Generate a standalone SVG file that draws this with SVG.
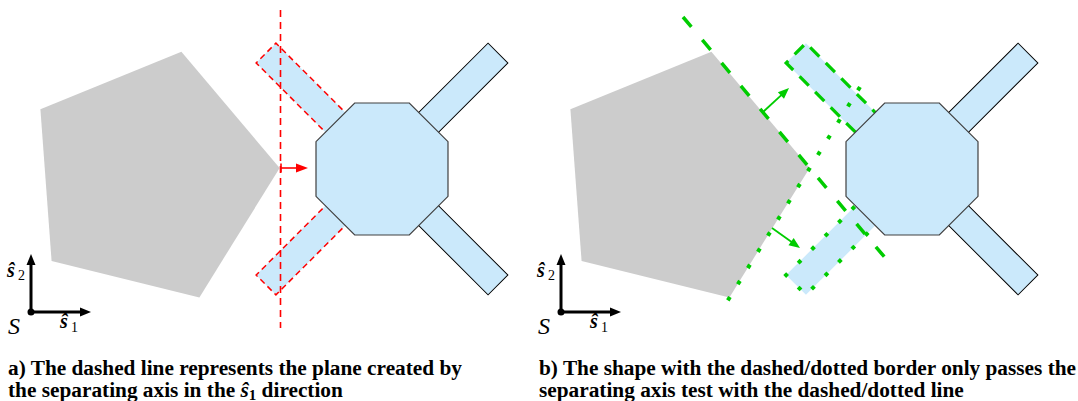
<svg xmlns="http://www.w3.org/2000/svg" width="1078" height="401" viewBox="0 0 1078 401">
<defs>
<style>
.pent{fill:#cccccc;stroke:none}
.oct{fill:#cbe9fb;stroke:#404040;stroke-width:1.2}
.arm{fill:#cbe9fb;stroke:#000;stroke-width:1}
.armR{fill:#cbe9fb;stroke:#ff0000;stroke-width:1.5;stroke-dasharray:6 4}
.armGd{fill:#cbe9fb;stroke:#00cc00;stroke-width:3.2;stroke-dasharray:13 9}
.armGo{fill:#cbe9fb;stroke:#00cc00;stroke-width:4;stroke-dasharray:4 15}
.redline{stroke:#ff0000;stroke-width:1.6;stroke-dasharray:7 5;fill:none}
.redarrow{stroke:#ff0000;stroke-width:1.6;fill:none}
.gdash{stroke:#00cc00;stroke-width:3.5;stroke-dasharray:13 17;fill:none}
.gdot{stroke:#00cc00;stroke-width:4;stroke-dasharray:4 15;fill:none}
.garrow{stroke:#00cc00;stroke-width:1.8;fill:none}
.axis{stroke:#000;stroke-width:3;fill:none}
.math{font-family:"Liberation Serif",serif;font-style:italic;fill:#000}
.hat{font-size:20px;font-weight:bold}
.sub{font-size:14px;font-style:normal}
.cap{font-family:"Liberation Serif",serif;font-weight:bold;font-size:21.3px;fill:#000}
</style>
<rect id="armshape" x="0" y="-14" width="164" height="28"/>
<polygon id="octshape" points="-27.3,-66 27.3,-66 66,-27.3 66,27.3 27.3,66 -27.3,66 -66,27.3 -66,-27.3"/>
<marker id="headK" markerUnits="userSpaceOnUse" markerWidth="12" markerHeight="10" refX="3" refY="4.5" orient="auto" overflow="visible">
<path d="M0,0 L11,4.5 L0,9 z" fill="#000"/>
</marker>
<marker id="headR" markerUnits="userSpaceOnUse" markerWidth="12" markerHeight="10" refX="2" refY="4.5" orient="auto" overflow="visible">
<path d="M0,0 L12,4.5 L0,9 z" fill="#ff0000"/>
</marker>
<marker id="tickR" markerUnits="userSpaceOnUse" markerWidth="4" markerHeight="10" refX="0" refY="4.5" orient="auto" overflow="visible">
<path d="M0,0 V9" stroke="#ff0000" stroke-width="1.6"/>
</marker>
<marker id="headG" markerUnits="userSpaceOnUse" markerWidth="12" markerHeight="10" refX="2" refY="4.5" orient="auto" overflow="visible">
<path d="M0,0 L11,4.5 L0,9 z" fill="#00cc00"/>
</marker>
</defs>

<!-- Panel a -->
<g id="pentagon-a"><polygon class="pent" points="181.4,51.7 40.4,109.3 51.6,261.1 199.4,297.4 279.65,168"/></g>
<g id="arm-a-ur"><use href="#armshape" class="arm" transform="translate(382,169) rotate(-45)"/></g>
<g id="arm-a-lr"><use href="#armshape" class="arm" transform="translate(382,169) rotate(45)"/></g>
<g id="arm-a-ul"><use href="#armshape" class="armR" transform="translate(382,169) rotate(-135)"/></g>
<g id="arm-a-ll"><use href="#armshape" class="armR" transform="translate(382,169) rotate(135)"/></g>
<g id="octagon-a"><use href="#octshape" class="oct" transform="translate(382,169)"/></g>
<g id="axes-a">
<path class="axis" d="M31,312 V262" marker-end="url(#headK)"/>
<path class="axis" d="M31,312 H83" marker-end="url(#headK)"/>
<circle cx="31" cy="312" r="3.5" fill="#000"/>
<text class="math hat" x="7" y="277">ŝ</text>
<text class="math sub" x="18" y="280">2</text>
<text class="math" x="8" y="334" font-size="24">S</text>
<text class="math hat" x="60" y="328">ŝ</text>
<text class="math sub" x="71" y="332">1</text>
</g>

<!-- Panel b -->
<g id="pentagon-b"><polygon class="pent" points="711.4,51.7 570.4,109.3 581.6,261.1 729.4,297.4 809.65,168"/></g>
<g id="arm-b-ur"><use href="#armshape" class="arm" transform="translate(912,169) rotate(-45)"/></g>
<g id="arm-b-lr"><use href="#armshape" class="arm" transform="translate(912,169) rotate(45)"/></g>
<g id="arm-b-ul"><use href="#armshape" class="armGd" transform="translate(912,169) rotate(-135)"/></g>
<g id="arm-b-ll"><use href="#armshape" class="armGo" transform="translate(912,169) rotate(135)"/></g>
<g id="octagon-b"><use href="#octshape" class="oct" transform="translate(912,169)"/></g>
<g id="axes-b">
<path class="axis" d="M561,312 V262" marker-end="url(#headK)"/>
<path class="axis" d="M561,312 H613" marker-end="url(#headK)"/>
<circle cx="561" cy="312" r="3.5" fill="#000"/>
<text class="math hat" x="537" y="277">ŝ</text>
<text class="math sub" x="548" y="280">2</text>
<text class="math" x="538" y="334" font-size="24">S</text>
<text class="math hat" x="590" y="328">ŝ</text>
<text class="math sub" x="601" y="332">1</text>
</g>

<!-- Connectors -->
<g id="connectors">
<path class="redline" d="M280.5,10 V328"/>
<path class="redarrow" d="M281,168 H298" marker-start="url(#tickR)" marker-end="url(#headR)"/>
<path class="gdash" d="M683,17 L892,266"/>
<path class="gdot" d="M860,87 L720,313"/>
<path class="garrow" d="M763,112 L782.4,94.1" marker-end="url(#headG)"/>
<path class="garrow" d="M772,228 L792.7,242.8" marker-end="url(#headG)"/>
</g>

<!-- Captions -->
<g id="caption-a">
<text class="cap" x="8" y="375">a) The dashed line represents the plane created by</text>
<text class="cap" x="8" y="397">the separating axis in the <tspan font-style="italic">ŝ</tspan><tspan font-size="15" dy="3">1</tspan><tspan dy="-3"> direction</tspan></text>
</g>
<g id="caption-b">
<text class="cap" x="539" y="375">b) The shape with the dashed/dotted border only passes the</text>
<text class="cap" x="539" y="397">separating axis test with the dashed/dotted line</text>
</g>
</svg>
